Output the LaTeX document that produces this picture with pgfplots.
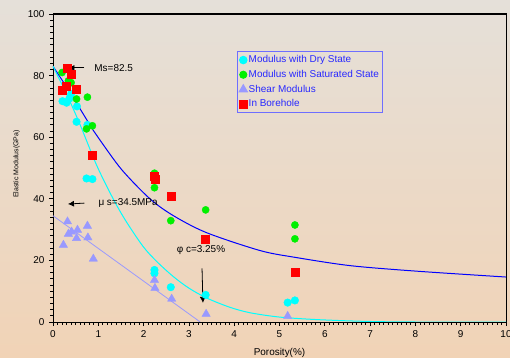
\documentclass[border=0pt]{standalone}
\usepackage{pgfplots}
\pgfplotsset{compat=1.18}
\usepackage{fontspec}
\setmainfont{Liberation Sans}
\usetikzlibrary{arrows.meta}

\definecolor{bgtop}{RGB}{229,224,217}
\definecolor{bgbot}{RGB}{241,211,182}
\definecolor{drycol}{RGB}{0,255,255}
\definecolor{satcol}{RGB}{0,240,0}
\definecolor{shearcol}{RGB}{153,153,255}
\definecolor{borecol}{RGB}{255,0,0}
\definecolor{fitblue}{RGB}{0,0,255}
\definecolor{legtext}{RGB}{40,40,255}
\definecolor{legframe}{RGB}{110,110,255}

\begin{document}
\begin{tikzpicture}
% page background
\shade[top color=bgtop, bottom color=bgbot] (0,0) rectangle (510bp,358bp);

\begin{axis}[
  at={(53bp,36bp)}, anchor=south west,
  scale only axis, width=453bp, height=308bp,
  xmin=0, xmax=10, ymin=0, ymax=100,
  xtick={0,1,...,10}, ytick={0,20,...,100},
  minor x tick num=9, minor y tick num=9,
  tick align=outside, tick pos=left,
  major tick length=4bp, minor tick length=2.5bp,
  every tick/.style={black, line width=0.8pt},
  axis line style={black, line width=1pt},
  /pgf/number format/assume math mode=true,
  tick label style={font=\fontsize{10}{12}\selectfont, black},
  xticklabel style={yshift=-1bp},
  yticklabel style={xshift=-1bp},
  every axis y label/.style={at={(axis description cs:-0.0806,0.513)}, rotate=90, anchor=center, font=\fontsize{7}{8}\selectfont},
  every axis x label/.style={at={(axis description cs:0.5,-0.101)}, anchor=center, font=\fontsize{10}{12}\selectfont},
  xlabel={Porosity(\%)},
  ylabel={Elastic Modulus(GPa)},
  legend cell align=left,
  legend style={at={(0.4055,0.88)}, anchor=north west, fill=none,
    draw=legframe, line width=0.9pt, text=legtext,
    font=\fontsize{10}{12}\selectfont,
    inner xsep=2pt, inner ysep=3pt, row sep=3.4pt,
    nodes={inner sep=1.3pt}},
  legend image code/.code={\draw[#1] plot coordinates {(0.12cm,0cm)};},
  clip=true,
]

% fitted curves
\addplot[fitblue, line width=1pt, smooth, forget plot] coordinates {
  (0,83) (0.3,76.3) (0.59,69.4) (0.89,62.2) (1.04,59) (1.52,49.4)
  (2.14,40) (2.66,34.5) (3.39,29) (4.57,23.2) (5.34,21.0) (6.56,18.3)
  (8.03,16.5) (10,14.6)};
\addplot[drycol, line width=1pt, smooth, forget plot] coordinates {
  (0,83) (0.3,74) (0.6,64) (0.96,51) (1.31,40.5) (1.6,33) (1.99,24.5)
  (2.3,19.5) (2.66,14.7) (3.0,11) (3.39,7.8) (3.9,4.8) (4.35,3.0)
  (5,1.6) (5.8,0.8) (6.9,0.2) (8,0) (10,0)};
\addplot[shearcol, line width=0.8pt, forget plot] coordinates {
  (0,34.5) (3.25,0)};

% measured data
\addplot[only marks, mark=*, mark size=3.8bp, color=drycol,
  mark options={draw=drycol, fill=drycol}] coordinates {
  (0.21,71.7) (0.30,71.2) (0.36,72.5) (0.40,74) (0.53,70) (0.52,65)
  (0.76,64) (0.74,46.6) (0.87,46.4) (2.24,16.9) (2.24,15.8) (2.60,11.3)
  (3.37,8.8) (5.18,6.3) (5.34,7.0)};
\addlegendentry{Modulus with Dry State}

\addplot[only marks, mark=*, mark size=3.6bp, color=satcol,
  mark options={draw=satcol, fill=satcol}] coordinates {
  (0.20,81) (0.34,78.3) (0.40,77.7) (0.52,72.4) (0.76,73) (0.74,62.7)
  (0.87,63.7) (2.24,48.3) (2.24,43.6) (2.60,32.9) (3.37,36.4)
  (5.34,31.5) (5.34,27)};
\addlegendentry{Modulus with Saturated State}

\addplot[only marks, mark=triangle*, mark size=4.8bp, color=shearcol,
  mark options={draw=shearcol, fill=shearcol}] coordinates {
  (0.32,32.6) (0.23,25) (0.34,28.6) (0.41,29.3) (0.54,29.9) (0.52,27.2)
  (0.76,31.2) (0.77,27.4) (0.89,20.5) (2.24,13.6) (2.25,11) (2.62,7.5)
  (3.38,2.6) (5.18,1.9)};
\addlegendentry{Shear Modulus}

\addplot[only marks, mark=square*, mark size=4bp, color=borecol,
  mark options={draw=borecol, fill=borecol}] coordinates {
  (0.32,82.3) (0.40,80.5) (0.20,75.1) (0.29,76.4) (0.52,75.5)
  (0.87,54) (2.24,47.4) (2.25,46.5) (2.62,40.7) (3.37,26.8) (5.34,16.1)};
\addlegendentry{In Borehole}

% annotations
\draw[-{Latex[length=6bp,width=6bp]}, line width=0.8pt] (axis cs:0.69,82.5) -- (axis cs:0.34,82.5);
\node[anchor=west, inner sep=0pt, font=\fontsize{10}{12}\selectfont] at (axis cs:0.91,82.5) {Ms=82.5};
\draw[-{Latex[length=6bp,width=6bp]}, line width=0.8pt] (axis cs:0.69,38.6) -- (axis cs:0.33,38.3);
\node[anchor=west, inner sep=0pt, font=\fontsize{10}{12}\selectfont] at (axis cs:1.0,38.5) {μ s=34.5MPa};
\node[anchor=west, inner sep=0pt, font=\fontsize{10}{12}\selectfont] at (axis cs:2.73,23.3) {φ c=3.25\%};
\draw[-{Latex[length=6bp,width=6bp]}, line width=0.8pt] (axis cs:3.29,17.4) -- (axis cs:3.31,6.2);

% frame on top and right
\draw[black, line width=0.6pt] (axis cs:0,100) -- (axis cs:10,100) -- (axis cs:10,0);
\end{axis}

\pgfresetboundingbox
\path[use as bounding box] (0,0) rectangle (510bp,358bp);
\end{tikzpicture}
\end{document}
